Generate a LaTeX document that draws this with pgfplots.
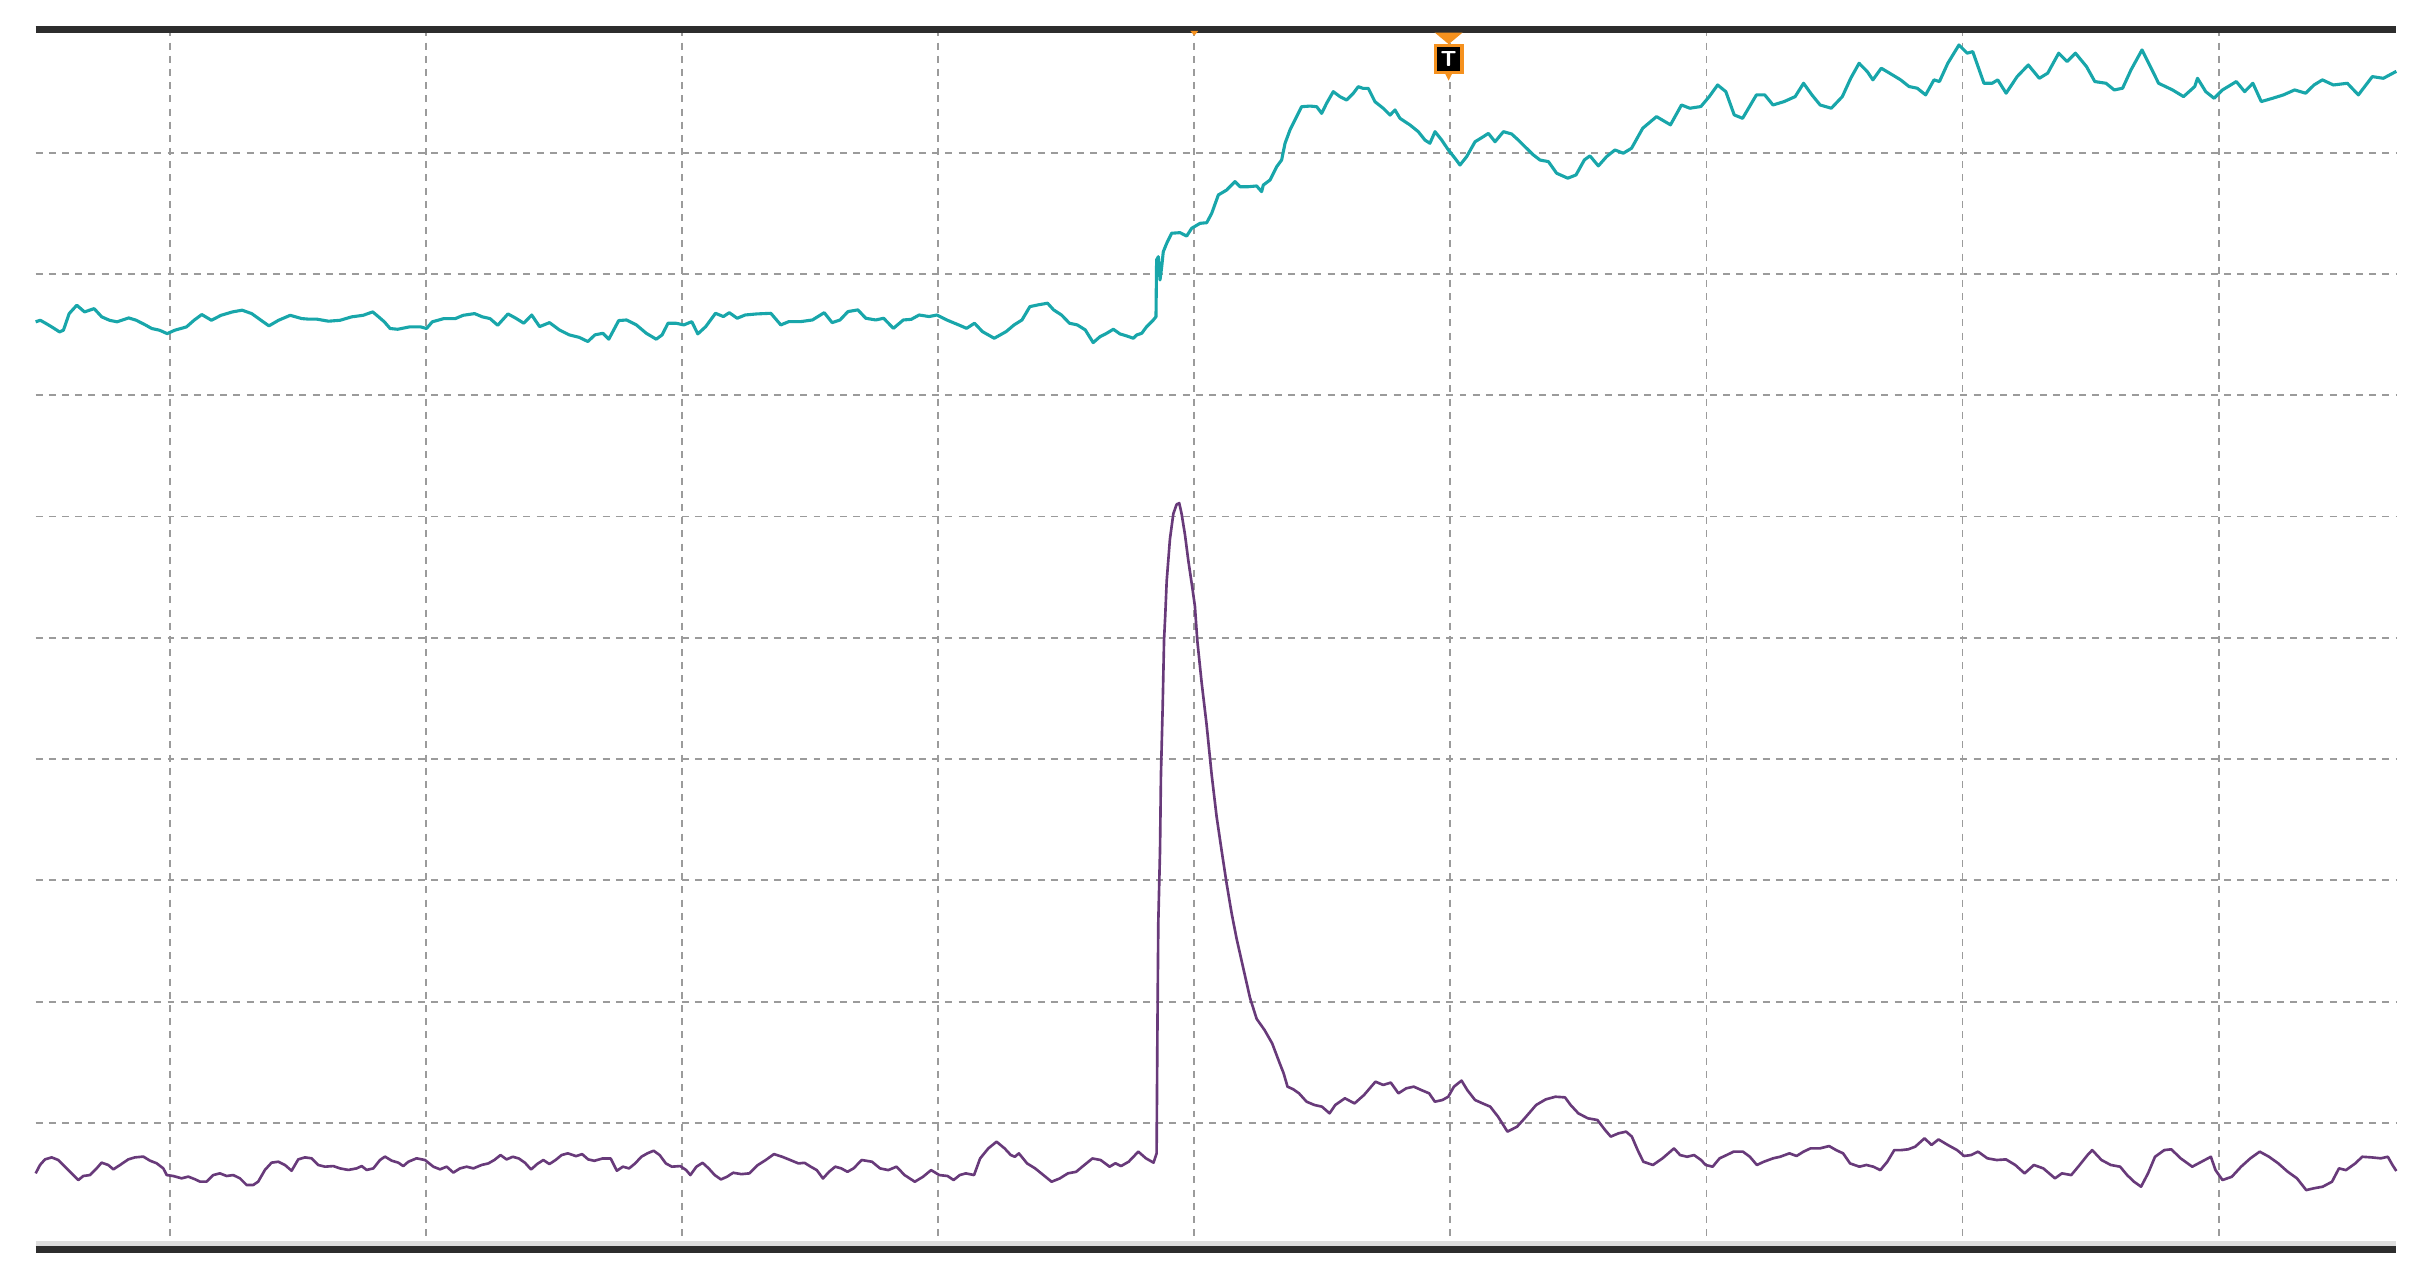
\documentclass[border=0pt]{standalone}
\usepackage{pgfplots}
\pgfplotsset{compat=1.18}
\definecolor{trA}{RGB}{24,166,170}
\definecolor{trB}{RGB}{104,58,122}
\definecolor{gridc}{RGB}{155,155,155}
\definecolor{frame}{RGB}{45,45,45}
\definecolor{band}{RGB}{222,222,222}
\definecolor{trig}{RGB}{245,145,30}
\begin{document}
\begin{tikzpicture}
\path[use as bounding box] (0,0) rectangle (156.8mm,82.9mm);
\begin{axis}[
  at={(2.3mm,2.35mm)}, anchor=south west,
  scale only axis, width=152.2mm, height=78.65mm,
  xmin=23, xmax=1545, ymin=19, ymax=805.5, y dir=reverse,
  axis line style={draw=none},
  xtick={109.6,274.7,439.8,604.9,770.0,935.1,1100.2,1265.3,1430.4},
  ytick={98.4,176.6,254.8,333.0,411.2,489.4,567.6,645.8,724.0},
  xticklabels={}, yticklabels={},
  tick style={draw=none},
  grid=major,
  major grid style={color=gridc, line width=0.12mm, dash pattern=on 0.45mm off 0.4mm},
  clip=false,
]
% channel A (teal)
\addplot[trA, line width=0.2mm, line join=round] table {
23.0 207.5
26.0 206.5
29.7 208.6
33.4 210.8
38.4 214.0
40.9 212.9
44.6 202.2
49.5 196.8
54.5 201.1
60.7 199.0
65.6 204.3
70.6 206.5
75.5 207.5
83.0 205.0
87.9 206.5
94.1 209.7
97.8 211.8
102.8 212.9
107.8 215.1
112.7 212.9
120.2 210.8
125.1 206.5
130.1 202.8
136.3 206.5
142.5 203.3
149.9 201.1
156.1 200.0
162.3 202.2
169.7 207.5
173.4 210.1
179.6 206.5
187.1 203.3
194.5 205.4
199.4 205.8
204.4 205.8
211.8 207.1
219.3 206.5
226.7 204.3
234.1 203.3
240.3 201.1
244.1 204.3
247.8 207.5
251.5 211.8
256.4 212.3
263.9 210.8
271.3 210.8
275.0 211.8
278.7 207.5
286.2 205.4
293.6 205.4
298.6 203.3
306.0 202.2
311.0 204.3
315.9 205.4
320.9 209.7
327.5 202.4
332.6 205.2
337.7 208.4
342.8 203.1
347.9 210.6
354.3 208.0
360.6 212.7
367.0 215.9
373.4 217.5
379.0 220.2
383.6 215.9
388.7 214.9
392.5 218.7
398.9 206.7
404.0 206.3
410.3 209.5
416.7 214.9
423.1 218.7
426.9 215.9
430.7 208.4
435.8 208.4
440.9 209.5
446.0 207.4
449.9 215.3
455.0 210.6
461.3 202.0
466.4 204.1
470.2 201.6
475.3 205.2
480.4 203.1
488.1 202.4
497.0 202.0
503.4 209.5
508.5 207.4
516.1 207.4
523.8 206.3
531.4 201.6
536.5 208.0
541.6 206.3
546.7 200.9
553.1 199.8
558.2 205.2
564.6 206.3
569.7 205.2
576.0 211.7
582.4 206.3
587.5 205.9
592.6 203.1
599.0 204.1
604.1 203.1
610.4 206.3
618.1 209.5
623.2 211.7
628.3 208.4
633.4 213.8
641.0 218.1
648.7 213.8
653.8 209.5
658.9 206.3
664.0 197.7
669.1 196.6
675.4 195.5
679.3 199.8
684.4 203.1
689.5 208.4
694.6 209.5
699.7 212.7
704.8 220.9
709.2 217.1
713.5 214.9
717.8 212.3
722.1 215.3
726.4 216.6
730.7 218.1
732.8 216.0
736.1 214.9
739.3 210.6
743.6 206.3
745.3 204.2
745.7 167.6
746.8 165.5
747.9 180.5
749.0 171.9
750.0 162.3
752.2 156.9
755.4 150.4
760.8 150.0
765.1 152.2
768.3 147.2
773.7 144.0
778.0 143.6
781.2 137.6
785.5 125.7
790.9 122.5
796.2 117.1
799.5 120.4
804.8 120.4
810.2 119.9
813.4 123.6
814.5 119.3
818.8 116.1
823.1 107.5
826.3 103.2
828.5 92.4
831.7 83.8
836.0 75.2
839.2 68.8
844.6 68.4
848.9 68.8
852.1 73.1
855.3 66.6
859.6 59.1
863.9 62.3
868.2 64.5
872.5 60.2
875.7 55.9
878.9 57.0
882.2 57.0
886.5 65.6
891.9 69.9
896.2 74.2
899.4 70.9
902.6 76.3
909.1 80.6
914.4 84.9
918.7 90.3
921.9 92.4
925.2 84.9
929.5 90.3
933.8 96.7
938.1 102.1
941.3 106.4
945.6 101.0
951.0 91.4
956.4 88.1
959.6 86.0
963.9 91.4
969.3 84.9
974.6 86.4
978.9 90.3
983.2 94.6
988.6 99.9
992.9 103.2
998.3 104.2
1003.6 111.7
1010.8 114.9
1016.1 112.8
1021.5 103.1
1025.1 100.5
1030.5 107.0
1035.8 101.0
1041.2 96.7
1046.6 98.8
1051.9 95.6
1059.1 82.7
1068.0 75.2
1077.0 80.5
1084.1 67.7
1089.5 69.8
1096.6 68.7
1102.0 62.3
1107.4 54.8
1112.7 59.1
1118.1 74.1
1123.5 76.3
1132.4 61.2
1137.8 61.2
1143.1 67.7
1150.3 65.5
1157.4 62.3
1162.8 53.7
1168.2 61.2
1173.5 67.7
1180.7 69.8
1187.8 62.3
1193.2 50.5
1198.6 40.8
1203.9 46.2
1207.5 51.5
1212.9 44.0
1218.3 47.2
1225.4 51.5
1230.8 55.8
1236.1 56.9
1241.5 61.2
1246.9 51.5
1250.4 52.6
1255.8 40.8
1263.0 29.0
1268.3 34.3
1271.9 33.3
1279.1 53.7
1284.4 53.7
1288.0 51.5
1293.4 60.1
1300.5 49.4
1307.7 41.9
1314.8 50.5
1320.2 47.2
1327.3 34.3
1332.7 39.7
1338.1 34.3
1345.2 42.9
1350.6 52.6
1357.8 53.7
1363.1 58.0
1368.5 56.9
1373.9 45.1
1381.0 32.2
1386.4 42.9
1391.7 53.7
1400.7 58.0
1407.8 62.3
1415.0 55.8
1416.8 50.5
1422.1 59.1
1427.5 63.4
1432.9 58.0
1438.2 54.8
1441.8 52.6
1447.2 59.1
1452.5 53.7
1457.9 65.5
1465.1 63.4
1472.2 61.2
1479.4 58.0
1486.5 60.1
1491.9 54.8
1497.3 51.5
1504.4 54.8
1513.4 53.7
1520.5 61.2
1529.5 49.4
1536.6 50.5
1545.0 46.0
};
% channel B (purple)
\addplot[trB, line width=0.17mm, line join=round] table {
23.0 756.5
25.8 751.1
29.0 747.5
33.3 746.2
37.6 747.9
40.8 751.1
45.1 755.4
50.5 760.8
53.7 758.2
58.0 757.6
62.3 753.3
65.5 749.6
69.8 751.1
73.1 753.9
77.4 751.1
82.7 747.5
87.0 746.2
92.4 745.7
96.7 748.3
101.0 750.0
105.3 753.3
107.5 757.6
111.7 758.2
117.1 759.7
121.4 758.6
125.7 760.3
128.9 761.8
133.2 761.8
137.5 757.6
141.8 756.5
146.1 758.2
150.4 757.6
154.7 759.7
159.0 764.0
163.3 764.0
166.5 761.8
170.8 754.3
175.1 749.6
179.4 749.0
183.7 751.1
188.0 754.8
192.3 747.5
196.6 746.2
200.9 746.8
205.2 751.1
209.5 752.2
214.9 751.8
219.2 753.3
224.6 754.3
229.9 753.3
233.2 751.8
236.4 754.3
240.7 753.3
245.0 747.9
248.2 745.7
252.5 748.3
256.8 749.6
260.0 751.8
263.3 749.0
268.6 746.8
274.0 747.9
279.4 752.2
283.7 753.9
288.0 752.2
292.3 756.0
296.6 753.3
300.9 752.2
305.2 753.3
310.5 751.1
314.8 750.1
318.7 747.9
322.7 744.7
326.6 747.5
330.6 745.8
334.5 746.9
338.5 749.7
342.4 754.0
346.3 750.5
350.3 747.9
354.2 750.5
358.2 747.9
362.1 744.7
366.1 743.6
371.4 745.4
375.3 744.1
379.2 747.5
383.2 748.4
388.5 746.9
393.7 746.9
397.7 754.8
401.6 752.2
405.6 753.3
409.5 750.1
413.5 745.8
417.4 743.6
421.4 741.9
425.3 744.7
429.3 750.1
433.2 752.2
438.5 751.8
442.4 754.4
445.1 757.6
449.0 752.2
453.0 749.7
456.9 753.3
460.8 757.6
464.8 760.4
468.7 758.7
472.7 756.1
478.0 757.0
483.2 756.5
488.5 751.2
493.7 747.9
499.0 744.1
504.3 745.8
509.5 747.9
514.8 750.1
518.7 749.7
522.7 752.2
526.6 754.4
530.6 759.8
534.5 755.5
538.5 752.2
542.4 753.3
546.4 755.5
550.3 753.3
555.6 747.9
562.2 749.0
567.4 753.3
572.7 754.4
578.0 752.2
583.2 757.6
589.8 761.9
595.1 758.7
600.3 754.4
605.6 757.6
610.9 758.2
614.8 760.8
618.8 757.6
622.7 756.5
628.0 757.6
631.9 746.9
637.2 740.4
642.5 736.1
647.7 740.4
651.7 744.7
654.3 745.8
656.9 743.6
662.2 750.1
667.4 753.3
672.7 757.6
678.0 761.9
683.2 759.8
688.5 756.5
693.8 755.5
699.0 751.2
704.3 746.9
709.6 747.9
715.4 752.2
719.1 750.0
722.8 751.8
727.7 749.0
733.9 742.5
738.8 746.8
743.7 749.6
745.7 743.6
746.2 667.7
746.8 594.5
747.9 548.3
748.5 499.5
749.6 456.1
750.5 412.6
751.3 396.3
752.2 374.6
754.3 347.5
756.5 331.2
758.6 325.2
760.3 324.4
761.8 331.2
764.0 344.8
766.1 361.1
768.9 380.1
770.4 390.9
771.9 412.6
774.7 439.8
777.9 466.9
781.2 499.5
784.4 526.6
787.6 548.3
790.9 570.0
794.1 589.0
797.3 605.3
801.6 624.3
805.9 643.3
810.2 656.9
815.3 664.1
820.2 672.7
825.1 685.6
827.6 692.0
830.1 700.6
833.8 702.3
837.5 704.9
842.4 710.3
847.4 712.4
852.3 713.5
857.2 717.8
860.9 712.4
867.1 708.1
873.3 711.4
879.4 706.0
886.8 697.4
891.8 699.5
896.7 698.0
901.6 704.9
906.6 701.7
911.5 700.6
916.4 702.8
921.4 704.9
925.1 710.3
930.0 709.2
933.7 707.1
937.4 700.6
942.3 696.7
946.0 702.8
951.0 709.2
955.9 711.4
960.8 713.5
965.8 719.9
971.9 729.6
978.1 726.4
983.0 721.0
990.4 712.4
996.6 708.8
1002.8 707.1
1009.0 707.5
1012.6 712.4
1017.6 717.8
1023.7 721.0
1029.9 722.1
1034.8 728.5
1038.5 732.8
1043.5 730.7
1048.4 729.6
1052.1 732.8
1055.8 741.4
1059.5 749.0
1065.7 751.1
1071.9 746.8
1079.3 740.4
1083.2 744.7
1087.7 745.8
1092.2 744.7
1096.7 747.9
1099.7 751.1
1104.2 752.2
1108.7 746.8
1113.2 744.7
1117.7 742.5
1123.7 742.5
1128.2 745.8
1132.7 751.1
1137.2 749.0
1143.2 746.8
1147.7 745.8
1153.7 743.6
1158.3 745.3
1162.8 742.5
1167.3 740.4
1173.3 740.4
1179.3 738.9
1183.8 741.5
1188.3 743.6
1192.8 750.1
1198.8 752.2
1203.3 751.1
1207.8 752.2
1212.3 754.4
1216.8 749.0
1221.3 741.5
1225.8 741.5
1230.3 741.0
1234.8 739.3
1240.8 733.9
1245.3 738.2
1249.8 734.6
1255.8 738.2
1261.8 741.5
1266.3 745.3
1270.8 744.7
1275.3 742.5
1281.3 746.8
1287.3 747.9
1293.3 747.5
1299.3 751.1
1305.3 756.5
1311.3 751.1
1317.4 753.3
1324.9 759.7
1329.4 756.5
1335.4 757.6
1339.9 752.2
1345.9 744.7
1348.9 741.5
1354.9 747.9
1360.9 751.1
1366.9 752.2
1371.4 757.6
1375.9 761.9
1380.4 765.1
1384.9 756.5
1389.4 745.8
1395.4 741.5
1399.9 741.0
1405.9 746.8
1413.4 752.2
1419.4 749.0
1425.4 745.8
1428.4 754.4
1432.9 760.8
1438.9 758.7
1444.9 752.2
1450.9 746.8
1456.9 742.5
1462.9 745.8
1468.9 750.1
1474.9 755.4
1480.9 759.7
1486.9 767.3
1491.5 766.2
1497.5 765.1
1503.5 761.9
1508.0 753.3
1512.5 754.4
1518.5 750.1
1523.0 745.8
1529.0 746.2
1535.0 746.8
1539.5 745.8
1542.5 751.1
1545.0 755.0
};
% frame lines
\draw[color=frame, line width=0.4mm] (axis cs:23,19) -- (axis cs:1545,19);
\draw[color=band, line width=0.35mm] (axis cs:23,802.0) -- (axis cs:1545,802.0);
\draw[color=frame, line width=0.45mm] (axis cs:23,805.5) -- (axis cs:1545,805.5);
% small marker on the top line
\fill[trig] (axis cs:767.5,20) -- (axis cs:772.5,20) -- (axis cs:770,23) -- cycle;
% trigger marker
\fill[trig] (axis cs:925,21) -- (axis cs:943,21) -- (axis cs:934,28.5) -- cycle;
\fill[trig] (axis cs:931,46) -- (axis cs:937,46) -- (axis cs:934,52) -- cycle;
\node[fill=black, draw=trig, line width=0.22mm, inner sep=0pt, minimum width=1.7mm, minimum height=1.75mm, text=white, font=\sffamily\bfseries\fontsize{4}{4}\selectfont] at (axis cs:934,38) {T};
\end{axis}
\end{tikzpicture}
\end{document}
